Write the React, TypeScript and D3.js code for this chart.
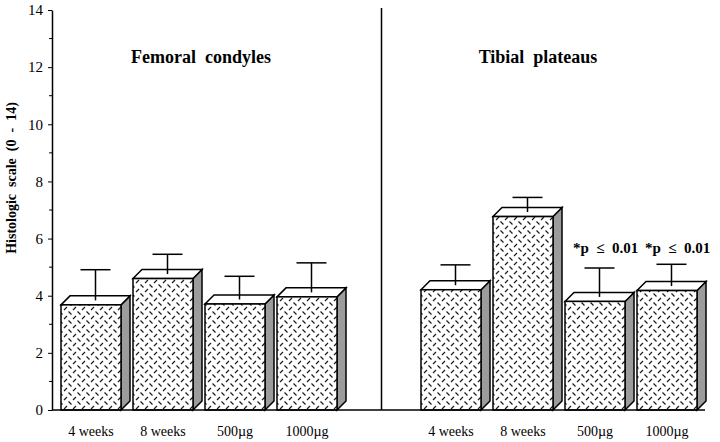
import React, { useEffect, useRef } from "react";
import * as d3 from "d3";

// slot index -> label, two groups separated by an empty slot
const slots = [0, 1, 2, 3, 5, 6, 7, 8];
const categories = ["4 weeks", "8 weeks", "500µg", "1000µg", "4 weeks", "8 weeks", "500µg", "1000µg"];
const means = [3.68, 4.6, 3.71, 3.96, 4.21, 6.77, 3.8, 4.18];
const upper = [4.91, 5.45, 4.68, 5.15, 5.08, 7.44, 4.97, 5.1];
const yTicks = [0, 2, 4, 6, 8, 10, 12, 14];
const yMinor = [1, 3, 5, 7, 9, 11, 13];
const groupTitles = ["Femoral  condyles", "Tibial  plateaus"];
const notes = [
  { slot: 7, text: "*p  ≤  0.01" },
  { slot: 8, text: "*p  ≤  0.01" },
];

const App = () => {
  const width = 720;
  const height = 442;
  const svgRef = useRef<SVGSVGElement>(null);

  useEffect(() => {
    document.body.style.margin = "0";
    if (!svgRef.current) return;
    const svg = d3.select(svgRef.current);
    svg.selectAll("*").remove();

    const serif = "Liberation Serif";
    const depth = 9;
    const barW = 60;

    const y = d3.scaleLinear().domain([0, 14]).range([410, 10]);
    const x = d3.scaleLinear().domain([0, 8]).range([61, 637]);

    const defs = svg.append("defs");
    const pat = defs
      .append("pattern")
      .attr("id", "plate")
      .attr("patternUnits", "userSpaceOnUse")
      .attr("width", 9)
      .attr("height", 9);
    pat.append("rect").attr("width", 9).attr("height", 9).attr("fill", "white");
    pat
      .append("path")
      .attr("d", "M1,4L4,1M5.5,5.5L8.5,8.5")
      .attr("stroke", "#1a1a1a")
      .attr("stroke-width", 1.2);

    svg.append("rect").attr("width", width).attr("height", height).attr("fill", "white");

    // bars
    const bars = svg
      .append("g")
      .selectAll("g")
      .data(slots.map((s, i) => ({ s, v: means[i], u: upper[i], c: categories[i] })))
      .join("g");

    bars.each(function (d) {
      const g = d3.select(this);
      const x0 = x(d.s);
      const x1 = x0 + barW;
      const yt = y(d.v);
      const yb = y(0);
      g.append("path")
        .attr("d", `M${x1},${yt}L${x1 + depth},${yt - depth}L${x1 + depth},${yb - depth}L${x1},${yb}Z`)
        .attr("fill", "#9c9c9c")
        .attr("stroke", "black")
        .attr("stroke-width", 1.5);
      g.append("path")
        .attr("d", `M${x0},${yt}L${x0 + depth},${yt - depth}L${x1 + depth},${yt - depth}L${x1},${yt}Z`)
        .attr("fill", "white")
        .attr("stroke", "black")
        .attr("stroke-width", 1.5);
      g.append("rect")
        .attr("x", x0)
        .attr("y", yt)
        .attr("width", barW)
        .attr("height", yb - yt)
        .attr("fill", "url(#plate)")
        .attr("stroke", "black")
        .attr("stroke-width", 1.5);
      const cx = x0 + barW / 2 + depth / 2;
      g.append("line")
        .attr("x1", cx)
        .attr("x2", cx)
        .attr("y1", yt - depth / 2)
        .attr("y2", y(d.u))
        .attr("stroke", "black")
        .attr("stroke-width", 1.5);
      g.append("line")
        .attr("x1", cx - 15)
        .attr("x2", cx + 15)
        .attr("y1", y(d.u))
        .attr("y2", y(d.u))
        .attr("stroke", "black")
        .attr("stroke-width", 1.5);
      g.append("text")
        .attr("x", x0 + barW / 2)
        .attr("y", 436)
        .attr("text-anchor", "middle")
        .attr("font-family", serif)
        .attr("font-size", 14)
        .text(d.c);
    });

    // x axis baseline and group divider
    svg
      .append("line")
      .attr("x1", 52)
      .attr("x2", 705)
      .attr("y1", y(0))
      .attr("y2", y(0))
      .attr("stroke", "black")
      .attr("stroke-width", 1.5);
    svg
      .append("line")
      .attr("x1", 381.5)
      .attr("x2", 381.5)
      .attr("y1", 8)
      .attr("y2", y(0))
      .attr("stroke", "black")
      .attr("stroke-width", 1.5);

    // y axis
    const yAxis = svg
      .append("g")
      .attr("transform", "translate(52,0)")
      .call(d3.axisLeft(y).tickValues(yTicks).tickSize(4).tickSizeOuter(0).tickPadding(5));
    yAxis.select(".domain").attr("stroke-width", 1.5);
    yAxis.attr("font-family", serif).attr("font-size", 15);
    yAxis.selectAll("text").attr("fill", "black");
    yAxis
      .selectAll(".minor")
      .data(yMinor)
      .join("line")
      .attr("class", "minor")
      .attr("x1", -3)
      .attr("x2", 0)
      .attr("y1", (d) => y(d))
      .attr("y2", (d) => y(d))
      .attr("stroke", "black");

    svg
      .append("text")
      .attr("transform", "translate(16,178) rotate(-90)")
      .attr("text-anchor", "middle")
      .attr("font-family", serif)
      .attr("font-weight", "bold")
      .attr("font-size", 14)
      .style("white-space", "pre")
      .text("Histologic  scale  (0  -  14)");

    // group titles
    svg
      .selectAll(".title")
      .data(groupTitles)
      .join("text")
      .attr("class", "title")
      .attr("x", (d, i) => (i === 0 ? 201 : 538))
      .attr("y", 63)
      .attr("text-anchor", "middle")
      .attr("font-family", serif)
      .attr("font-weight", "bold")
      .attr("font-size", 18)
      .style("white-space", "pre")
      .text((d) => d);

    // significance notes
    svg
      .selectAll(".note")
      .data(notes)
      .join("text")
      .attr("class", "note")
      .attr("x", (d) => x(d.slot) + 8)
      .attr("y", 253)
      .attr("font-family", serif)
      .attr("font-weight", "bold")
      .attr("font-size", 15)
      .style("white-space", "pre")
      .text((d) => d.text);
  }, []);

  return (
    <div>
      <svg ref={svgRef} width={width} height={height} style={{ display: "block" }}></svg>
    </div>
  );
};

export default App;
